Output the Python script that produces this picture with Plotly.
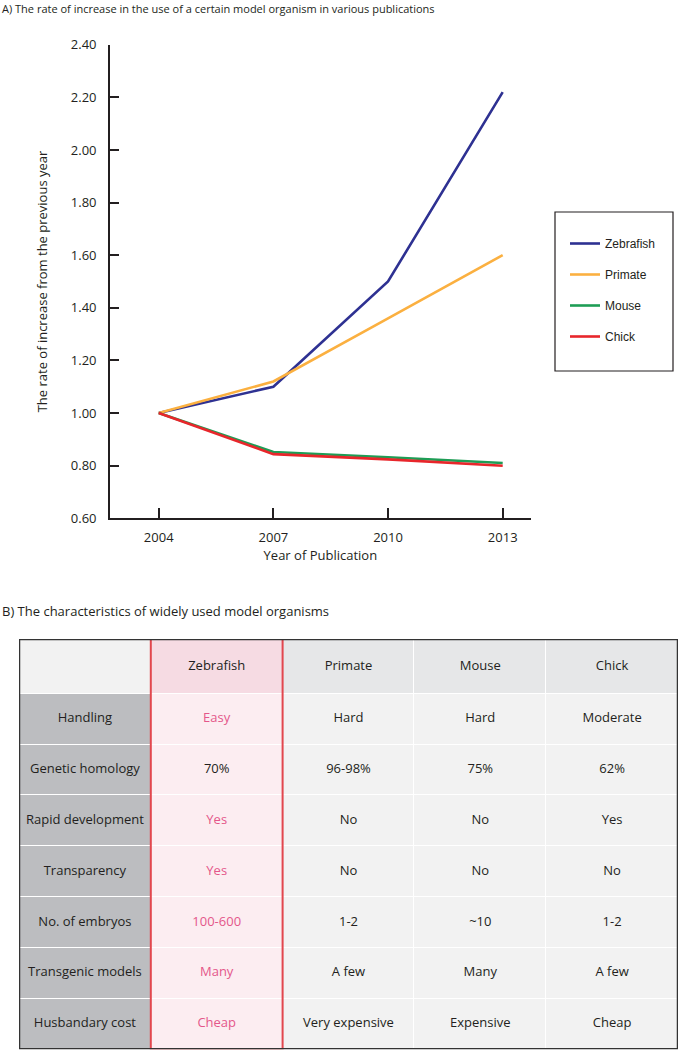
import plotly.graph_objects as go

# ---------------- Data: chart A ----------------
years = [2004, 2007, 2010, 2013]
zebrafish = [1.00, 1.10, 1.50, 2.22]
primate = [1.00, 1.12, 1.36, 1.60]
mouse = [1.00, 0.852, 0.832, 0.81]
chick = [1.00, 0.844, 0.824, 0.80]
series_names = ["Zebrafish", "Primate", "Mouse", "Chick"]
series_colors = ["#2e3192", "#fbb040", "#1e9d55", "#e8262b"]

# ---------------- Data: table B ----------------
organisms = ["Zebrafish", "Primate", "Mouse", "Chick"]
characteristics = ["Handling", "Genetic homology", "Rapid development", "Transparency",
                   "No. of embryos", "Transgenic models", "Husbandary cost"]
zebrafish_col = ["Easy", "70%", "Yes", "Yes", "100-600", "Many", "Cheap"]
primate_col = ["Hard", "96-98%", "No", "No", "1-2", "A few", "Very expensive"]
mouse_col = ["Hard", "75%", "No", "No", "~10", "Many", "Expensive"]
chick_col = ["Moderate", "62%", "Yes", "No", "1-2", "A few", "Cheap"]

TXT = "#231f20"
PINK_TXT = "#e4578a"

fig = go.Figure()

for name, vals, col in zip(series_names, [zebrafish, primate, mouse, chick], series_colors):
    fig.add_trace(go.Scatter(x=years, y=vals, mode="lines", name=name,
                             line=dict(color=col, width=2.6),
                             legendgroup=name, xaxis="x", yaxis="y"))

# ---------------- Table via heatmap ----------------
columns = [zebrafish_col, primate_col, mouse_col, chick_col]
n_rows = len(characteristics)
n_cols = len(organisms) + 1
z = []
z.append([0, 1] + [2] * (n_cols - 2))
for r in range(n_rows):
    z.append([3, 4] + [5] * (n_cols - 2))
colorscale = [
    [0 / 5, "#f2f2f2"], [0.5 / 5, "#f2f2f2"],
    [0.5 / 5, "#f6dbe3"], [1.5 / 5, "#f6dbe3"],
    [1.5 / 5, "#e6e7e8"], [2.5 / 5, "#e6e7e8"],
    [2.5 / 5, "#bcbdc0"], [3.5 / 5, "#bcbdc0"],
    [3.5 / 5, "#fcedf1"], [4.5 / 5, "#fcedf1"],
    [4.5 / 5, "#f2f2f2"], [5 / 5, "#f2f2f2"],
]
header_h = 1.08
x_edges = list(range(n_cols + 1))
y_edges = [-header_h] + list(range(n_rows + 1))
fig.add_trace(go.Heatmap(z=z, x=x_edges, y=y_edges, colorscale=colorscale, zmin=0, zmax=5,
                         showscale=False, xgap=1, ygap=1, hoverinfo="skip",
                         xaxis="x2", yaxis="y2", showlegend=False))

tx, ty, tt, tc = [], [], [], []
for j, org in enumerate(organisms):
    tx.append(j + 1.5); ty.append(-header_h / 2); tt.append(org); tc.append(TXT)
for i, ch in enumerate(characteristics):
    tx.append(0.5); ty.append(i + 0.5); tt.append(ch); tc.append(TXT)
    for j, colvals in enumerate(columns):
        tx.append(j + 1.5); ty.append(i + 0.5); tt.append(colvals[i])
        if j == 0 and colvals[i] != "70%":
            tc.append(PINK_TXT)
        else:
            tc.append(TXT)
fig.add_trace(go.Scatter(x=tx, y=ty, text=tt, mode="text",
                         textfont=dict(family="Open Sans", size=13, color=tc),
                         hoverinfo="skip", xaxis="x2", yaxis="y2", showlegend=False))

shapes = [
    dict(type="rect", xref="x2", yref="y2", x0=1, x1=2, y0=-header_h, y1=n_rows,
         line=dict(color="#e2474e", width=2), layer="above"),
    dict(type="rect", xref="x2", yref="y2", x0=0, x1=n_cols, y0=-header_h, y1=n_rows,
         line=dict(color="#333333", width=2.5), layer="above"),
    dict(type="rect", xref="paper", yref="paper", x0=555 / 679, x1=673 / 679,
         y0=(1050 - 371) / 1050, y1=(1050 - 212) / 1050,
         line=dict(color="#231f20", width=1.2)),
]

annotations = [
    dict(text="A) The rate of increase in the use of a certain model organism in various publications",
         xref="paper", yref="paper", x=0, y=1 - 9 / 1050, xanchor="left", yanchor="middle",
         showarrow=False, font=dict(family="Open Sans", size=11, color=TXT)),
    dict(text="B) The characteristics of widely used model organisms",
         xref="paper", yref="paper", x=0, y=1 - 611 / 1050, xanchor="left", yanchor="middle",
         showarrow=False, font=dict(family="Open Sans", size=13, color=TXT)),
]

axis_font = dict(family="Open Sans", size=13, color=TXT)
fig.update_layout(
    width=679, height=1050, autosize=False,
    margin=dict(l=0, r=0, t=0, b=0, autoexpand=False),
    paper_bgcolor="white", plot_bgcolor="white",
    showlegend=True,
    legend=dict(x=565 / 679, y=(1050 - 229) / 1050, xanchor="left", yanchor="top",
                bgcolor="rgba(0,0,0,0)", borderwidth=0, tracegroupgap=12,
                font=dict(family="Liberation Sans, Arial", size=12, color=TXT)),
    xaxis=dict(domain=[110 / 679, 530.7 / 679], range=[2002.725, 2013.733],
               tickvals=years, ticktext=[str(y) for y in years], automargin=False,
               showline=True, linecolor=TXT, linewidth=1.8, ticks="inside", ticklen=10,
               tickwidth=1.5, tickcolor=TXT, showgrid=False, zeroline=False,
               tickfont=axis_font, ticklabelstandoff=6,
               title=dict(text="Year of Publication", font=axis_font, standoff=4),
               anchor="y"),
    yaxis=dict(domain=[(1050 - 518.3) / 1050, (1050 - 44.7) / 1050], range=[0.6, 2.4],
               dtick=0.2, tick0=0.6, tickformat=".2f", automargin=False,
               showline=True, linecolor=TXT, linewidth=1.8, ticks="inside", ticklen=9,
               tickwidth=1.5, tickcolor=TXT, showgrid=False, zeroline=False,
               tickfont=axis_font, ticklabelstandoff=9,
               title=dict(text="The rate of increase from the previous year", font=axis_font, standoff=20),
               anchor="x"),
    xaxis2=dict(domain=[19 / 679, 678 / 679], range=[0, n_cols], visible=False,
                fixedrange=True, anchor="y2", automargin=False),
    yaxis2=dict(domain=[(1050 - 1049.3) / 1050, (1050 - 639) / 1050],
                range=[n_rows, -header_h], visible=False, fixedrange=True, anchor="x2",
                automargin=False),
    shapes=shapes,
    annotations=annotations,
)

fig.write_html("out.html", config={"displayModeBar": False},
               post_script="document.body.style.margin='0';document.body.style.padding='0';"
                           "document.documentElement.style.overflow='hidden';")
